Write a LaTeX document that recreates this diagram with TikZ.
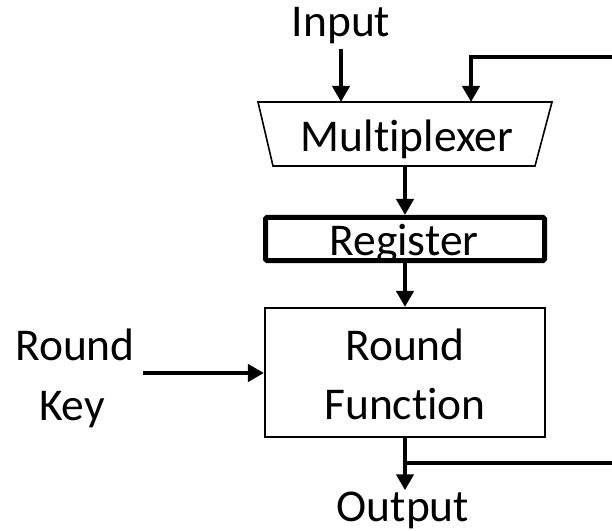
\documentclass[tikz,border=0pt]{standalone}
\usepackage{fontspec}
\setmainfont{Carlito}[Ligatures=NoCommon]
\usetikzlibrary{arrows.meta}
\begin{document}
\begin{tikzpicture}[x=1bp,y=-1bp,
  lbl/.style={inner sep=0pt, font=\fontsize{45.5bp}{58bp}\selectfont, anchor=base},
  thinbox/.style={draw, line width=1.6bp, inner sep=0pt},
  regbox/.style={draw, line width=5bp, rounded corners=1.5bp, inner sep=0pt},
  conn/.style={line width=4bp},
  arr/.style={conn, -{Triangle[length=16bp,width=17bp]}}]
\useasboundingbox (0,0) rectangle (612,531);
% multiplexer
\coordinate (mtl) at (258,102);
\coordinate (mtr) at (552,102);
\coordinate (mbr) at (535,166);
\coordinate (mbl) at (273,166);
\draw[line width=1.6bp, line join=miter] (mtl) -- (mtr) -- (mbr) -- (mbl) -- cycle;
\node[lbl] (mux) at (407,152) {Multiplexer};
% register
\node[regbox, minimum width=279bp, minimum height=43bp] (reg) at (405,239) {};
\node[lbl] (regt) at (404,255) {Register};
% round function
\node[thinbox, minimum width=280.5bp, minimum height=129.5bp] (rf) at (405,372.5) {};
\node[lbl] (rf1) at (405,360) {Round};
\node[lbl] (rf2) at (405,419) {Function};
% labels
\node[lbl] (inp) at (341,37) {Input};
\node[lbl] (rk1) at (75,360) {Round};
\node[lbl] (rk2) at (72,420) {Key};
\node[lbl] (out) at (403,521) {Output};
% connectors
\coordinate (minA) at (341,102);
\coordinate (minB) at (471,102);
\coordinate (fb) at (612,57);
\coordinate (fe) at (612,463);
\coordinate (rks) at (143,373);
\draw[arr] ([yshift=-4bp]inp.south) -- (minA);
\draw[arr] (fb) -| (minB);
\draw[arr] (mbl -| reg.north) -- (reg.north);
\draw[arr] (reg.south) -- (rf.north);
\draw[arr] (rks) -- (rks -| rf.west);
\draw[arr] (rf.south) -- ([yshift=1bp]rf.south |- out.north);
\draw[conn] (rf.south |- fe) -- (fe);
\end{tikzpicture}
\end{document}
